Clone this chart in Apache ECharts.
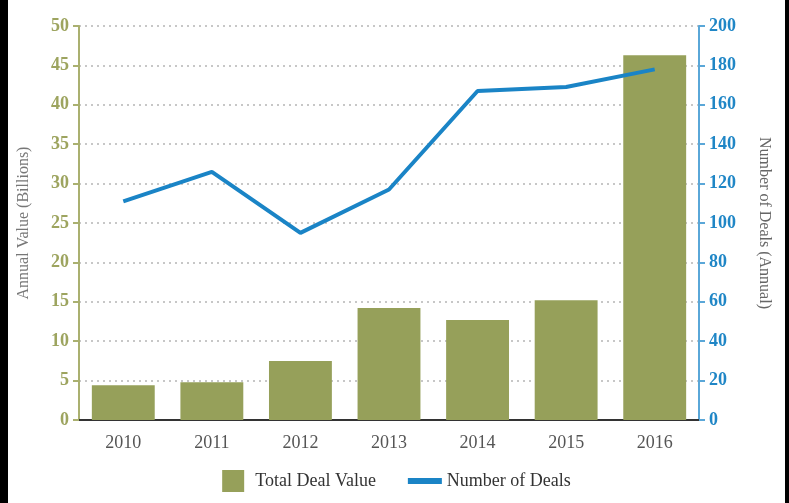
<!DOCTYPE html>
<html>
<head>
<meta charset="utf-8">
<script src="https://cdn.jsdelivr.net/npm/echarts@6/dist/echarts.min.js"></script>
<style>
  html, body { margin: 0; padding: 0; background: #000; }
  #chart { position: absolute; left: 8px; top: 0; width: 777px; height: 503px; background: #fff; }
</style>
</head>
<body>
<div id="chart"></div>
<script>
// data
var years = ['2010', '2011', '2012', '2013', '2014', '2015', '2016'];
var dealValue = [4.4, 4.8, 7.5, 14.2, 12.7, 15.2, 46.3];
var dealCount = [111, 126, 95, 117, 167, 169, 178];

var green = '#96a05a';
var blue = '#1a84c6';
var serif = 'Liberation Serif';

var chart = echarts.init(document.getElementById('chart'));

chart.setOption({
    animation: false,
    textStyle: { fontFamily: serif },
    grid: { left: 69, right: 86, top: 26, bottom: 83 },
    legend: {
        bottom: 6,
        left: 'center',
        itemGap: 32,
        itemWidth: 34,
        itemHeight: 22,
        symbolKeepAspect: true,
        textStyle: { fontFamily: serif, fontSize: 18, color: '#333' },
        data: [
            { name: 'Total Deal Value', icon: 'path://M0,0 L22,0 L22,22 L0,22 Z', itemStyle: { color: green } },
            { name: 'Number of Deals', icon: 'path://M0,0 L34,0 L34,6 L0,6 Z', itemStyle: { color: blue } }
        ]
    },
    xAxis: {
        type: 'category',
        data: years,
        axisLine: { lineStyle: { color: '#333', width: 2 } },
        axisTick: { alignWithLabel: true, length: 7, lineStyle: { color: '#333', width: 2 } },
        axisLabel: { color: '#555', fontSize: 18, margin: 14, fontFamily: serif }
    },
    yAxis: [{
        type: 'value',
        min: 0,
        max: 50,
        interval: 5,
        name: 'Annual Value (Billions)',
        nameLocation: 'middle',
        nameRotate: 90,
        nameGap: 47,
        nameTextStyle: { color: '#777', fontSize: 16, fontFamily: serif },
        axisLine: { show: true, lineStyle: { color: '#aab070', width: 2 } },
        axisTick: { show: true, length: 6, lineStyle: { color: '#aab070', width: 2 } },
        axisLabel: { color: '#9da45f', fontSize: 18, fontWeight: 'bold', margin: 10, fontFamily: serif },
        splitLine: { lineStyle: { color: '#b5b5b5', type: [2, 4], width: 1.5 } }
    }, {
        type: 'value',
        min: 0,
        max: 200,
        interval: 20,
        name: 'Number of Deals (Annual)',
        nameLocation: 'middle',
        nameRotate: -90,
        nameGap: 57,
        nameTextStyle: { color: '#666', fontSize: 16, fontFamily: serif },
        axisLine: { show: true, lineStyle: { color: '#5aa7d8', width: 2 } },
        axisTick: { show: true, length: 6, lineStyle: { color: '#5aa7d8', width: 2 } },
        axisLabel: { color: '#1f86c6', fontSize: 18, fontWeight: 'bold', margin: 10, fontFamily: serif },
        splitLine: { show: false }
    }],
    series: [{
        name: 'Total Deal Value',
        type: 'bar',
        yAxisIndex: 0,
        barCategoryGap: '29%',
        itemStyle: { color: green },
        data: dealValue
    }, {
        name: 'Number of Deals',
        type: 'line',
        yAxisIndex: 1,
        symbol: 'none',
        lineStyle: { color: blue, width: 4 },
        itemStyle: { color: blue },
        data: dealCount
    }]
});
</script>
</body>
</html>
